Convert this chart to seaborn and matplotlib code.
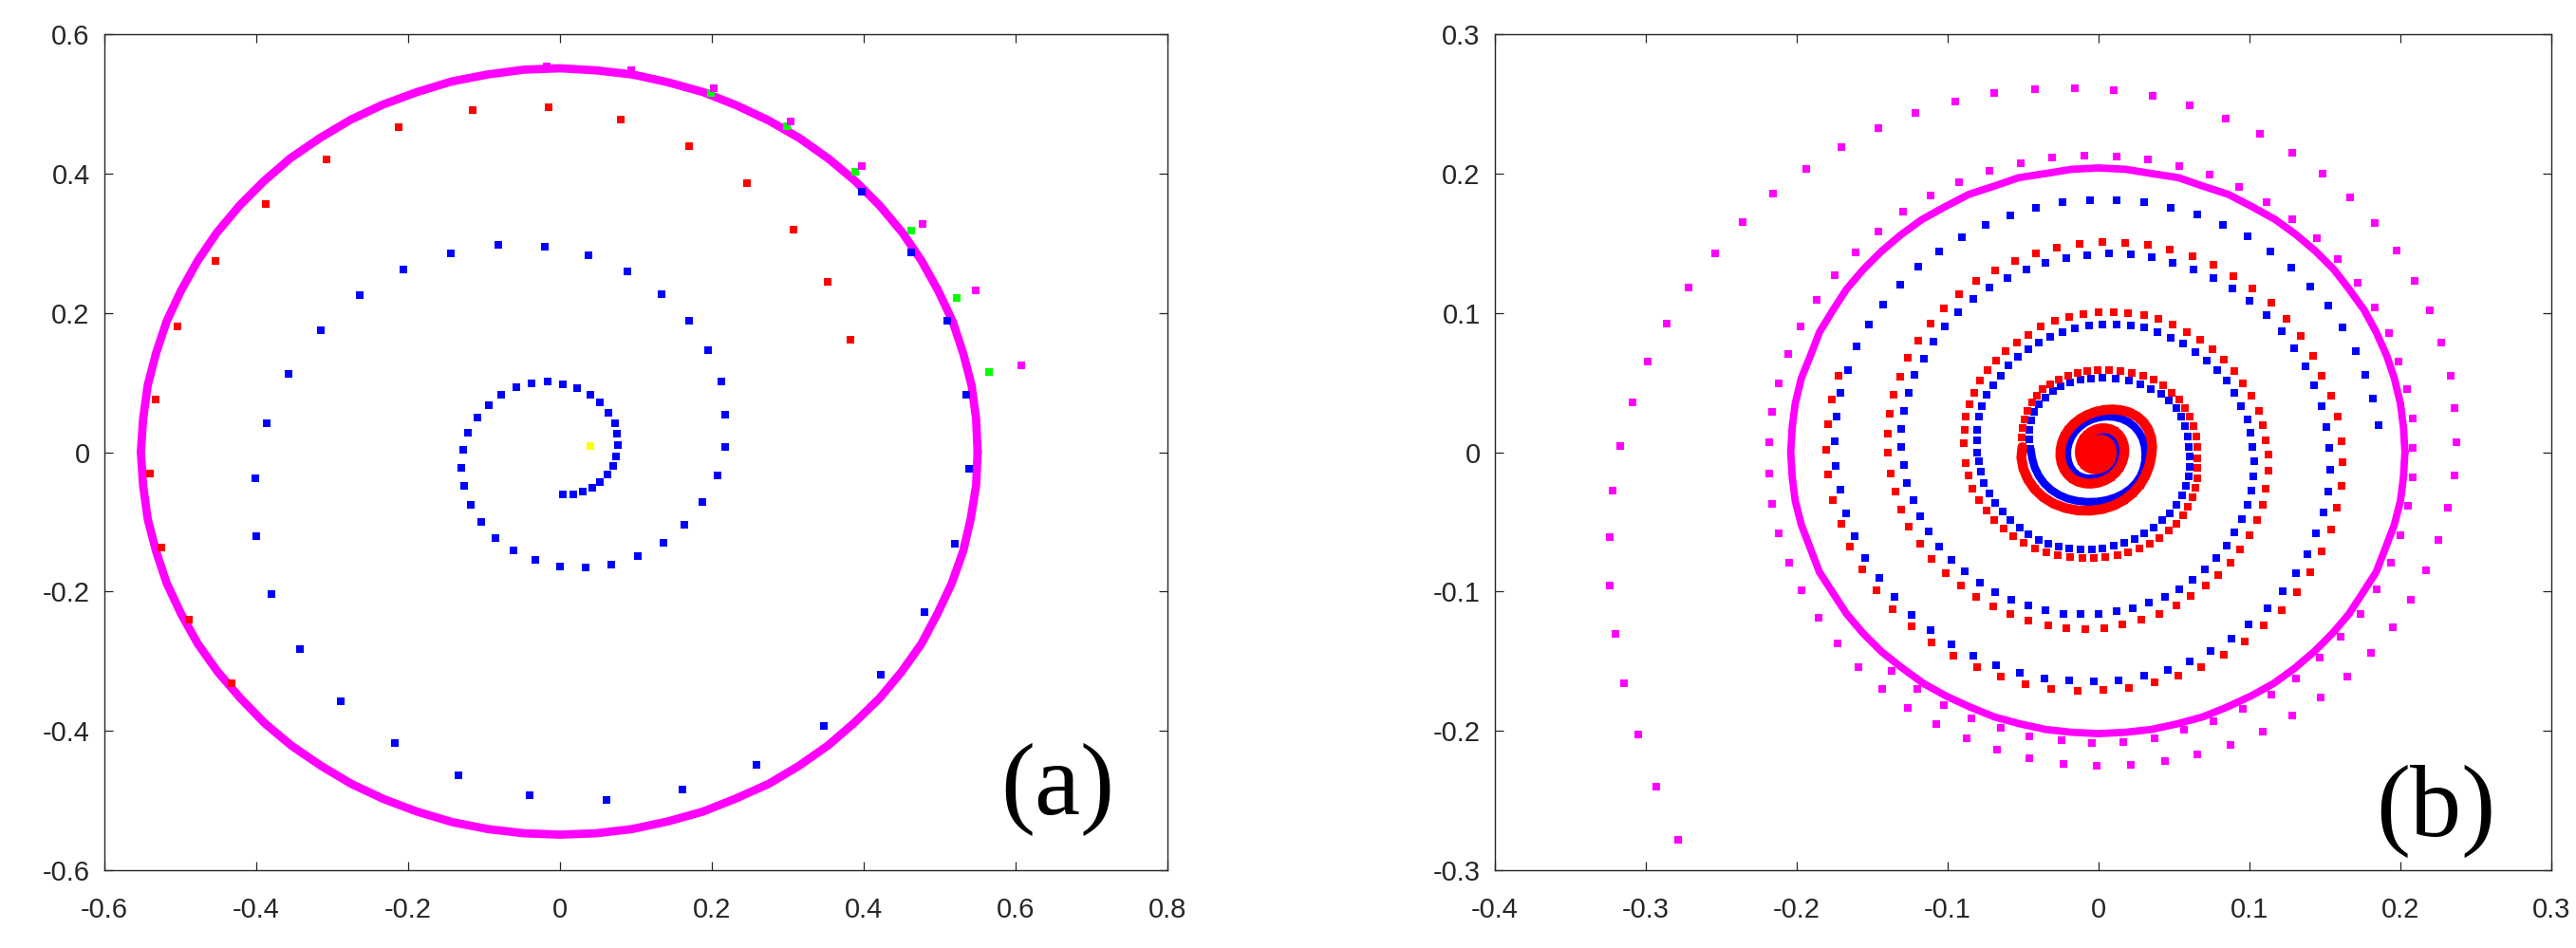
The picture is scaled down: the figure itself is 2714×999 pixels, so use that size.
import matplotlib
matplotlib.use("Agg")
import matplotlib.pyplot as plt
from matplotlib import font_manager as fm
import pandas as pd
import seaborn as sns

# ------------------------------------------------------------------
# Panel (a) data  (x, y) pairs
# ------------------------------------------------------------------
a_ring = [(0.550, 0.000), (0.548, 0.048), (0.542, 0.096), (0.531, 0.142), (0.517, 0.188),
          (0.498, 0.232), (0.476, 0.275), (0.451, 0.315), (0.421, 0.354), (0.389, 0.389),
          (0.354, 0.421), (0.315, 0.451), (0.275, 0.476), (0.232, 0.498), (0.188, 0.517),
          (0.142, 0.531), (0.096, 0.542), (0.048, 0.548), (0.000, 0.551), (-0.048, 0.549),
          (-0.096, 0.542), (-0.143, 0.532), (-0.188, 0.517), (-0.233, 0.499), (-0.276, 0.477),
          (-0.316, 0.451), (-0.355, 0.422), (-0.390, 0.389), (-0.422, 0.354), (-0.452, 0.315),
          (-0.477, 0.275), (-0.499, 0.232), (-0.518, 0.188), (-0.532, 0.142), (-0.543, 0.096),
          (-0.549, 0.048), (-0.552, 0.000), (-0.549, -0.048), (-0.543, -0.096), (-0.532, -0.142),
          (-0.518, -0.188), (-0.499, -0.232), (-0.477, -0.275), (-0.451, -0.315), (-0.421, -0.353),
          (-0.389, -0.389), (-0.354, -0.421), (-0.315, -0.450), (-0.275, -0.476), (-0.232, -0.498),
          (-0.188, -0.516), (-0.142, -0.531), (-0.095, -0.541), (-0.048, -0.547), (0.000, -0.549),
          (0.048, -0.547), (0.095, -0.541), (0.142, -0.530), (0.188, -0.516), (0.232, -0.497),
          (0.275, -0.476), (0.315, -0.450), (0.353, -0.421), (0.388, -0.388), (0.421, -0.353),
          (0.450, -0.315), (0.476, -0.275), (0.497, -0.232), (0.516, -0.188), (0.531, -0.142),
          (0.541, -0.095), (0.548, -0.048), (0.550, 0.000)]

a_blue = [(0.004, -0.061), (0.017, -0.060), (0.030, -0.057), (0.042, -0.051), (0.053, -0.043),
          (0.063, -0.032), (0.070, -0.020), (0.074, -0.006), (0.076, 0.010), (0.075, 0.026),
          (0.072, 0.042), (0.064, 0.057), (0.053, 0.072), (0.040, 0.083), (0.022, 0.092),
          (0.004, 0.098), (-0.016, 0.101), (-0.037, 0.099), (-0.057, 0.093), (-0.077, 0.082),
          (-0.094, 0.068), (-0.109, 0.050), (-0.121, 0.028), (-0.128, 0.003), (-0.130, -0.023),
          (-0.126, -0.048), (-0.118, -0.075), (-0.104, -0.100), (-0.085, -0.123), (-0.061, -0.141),
          (-0.032, -0.155), (0.000, -0.164), (0.034, -0.166), (0.068, -0.161), (0.103, -0.149),
          (0.136, -0.130), (0.164, -0.104), (0.188, -0.072), (0.207, -0.034), (0.217, 0.008),
          (0.218, 0.054), (0.212, 0.101), (0.195, 0.146), (0.170, 0.189), (0.134, 0.227),
          (0.089, 0.259), (0.037, 0.282), (-0.020, 0.295), (-0.081, 0.297), (-0.144, 0.285),
          (-0.206, 0.262), (-0.264, 0.225), (-0.315, 0.175), (-0.357, 0.113), (-0.386, 0.042),
          (-0.401, -0.037), (-0.400, -0.120), (-0.380, -0.203), (-0.343, -0.283), (-0.289, -0.357),
          (-0.218, -0.418), (-0.134, -0.464), (-0.040, -0.492), (0.061, -0.499), (0.161, -0.484),
          (0.259, -0.449), (0.347, -0.393), (0.422, -0.319), (0.480, -0.230), (0.520, -0.131),
          (0.539, -0.024), (0.535, 0.083), (0.510, 0.188), (0.463, 0.287), (0.398, 0.374)]

a_red = [(0.382, 0.162), (0.353, 0.244), (0.308, 0.319), (0.246, 0.386), (0.170, 0.439),
         (0.080, 0.477), (-0.015, 0.495), (-0.115, 0.491), (-0.213, 0.466), (-0.307, 0.420),
         (-0.388, 0.356), (-0.454, 0.274), (-0.504, 0.180), (-0.533, 0.076), (-0.540, -0.031),
         (-0.525, -0.137), (-0.489, -0.240), (-0.432, -0.332)]

a_green = [(0.565, 0.115), (0.523, 0.222), (0.463, 0.318), (0.389, 0.402), (0.299, 0.468),
           (0.199, 0.515)]

a_magenta = [(0.608, 0.125), (0.547, 0.232), (0.478, 0.328), (0.397, 0.410), (0.304, 0.475),
             (0.202, 0.522), (0.094, 0.548), (-0.018, 0.554)]

a_yellow = [(0.040, 0.009)]

a_xticks = [-0.6, -0.4, -0.2, 0, 0.2, 0.4, 0.6, 0.8]
a_xticklabels = ['-0.6', '-0.4', '-0.2', '0', '0.2', '0.4', '0.6', '0.8']
a_yticks = [-0.6, -0.4, -0.2, 0, 0.2, 0.4, 0.6]
a_yticklabels = ['-0.6', '-0.4', '-0.2', '0', '0.2', '0.4', '0.6']

# ------------------------------------------------------------------
# Panel (b) data
# ------------------------------------------------------------------
b_ring = [(0.203, 0.000), (0.202, 0.018), (0.200, 0.035), (0.196, 0.053), (0.191, 0.069),
          (0.184, 0.086), (0.176, 0.102), (0.166, 0.117), (0.156, 0.131), (0.144, 0.144),
          (0.131, 0.156), (0.117, 0.167), (0.102, 0.176), (0.086, 0.185), (0.069, 0.191),
          (0.053, 0.197), (0.035, 0.200), (0.018, 0.203), (0.000, 0.204), (-0.018, 0.203),
          (-0.035, 0.200), (-0.053, 0.197), (-0.069, 0.191), (-0.086, 0.185), (-0.102, 0.176),
          (-0.117, 0.167), (-0.131, 0.156), (-0.144, 0.144), (-0.156, 0.131), (-0.167, 0.117),
          (-0.176, 0.102), (-0.185, 0.086), (-0.191, 0.069), (-0.197, 0.053), (-0.201, 0.035),
          (-0.203, 0.018), (-0.204, 0.000), (-0.203, -0.018), (-0.201, -0.035), (-0.197, -0.052),
          (-0.191, -0.069), (-0.185, -0.086), (-0.176, -0.101), (-0.167, -0.116), (-0.156, -0.130),
          (-0.144, -0.143), (-0.130, -0.155), (-0.116, -0.166), (-0.101, -0.175), (-0.085, -0.183),
          (-0.069, -0.190), (-0.052, -0.195), (-0.035, -0.199), (-0.018, -0.201), (0.000, -0.202),
          (0.018, -0.201), (0.035, -0.199), (0.052, -0.195), (0.069, -0.190), (0.085, -0.183),
          (0.101, -0.175), (0.116, -0.166), (0.130, -0.155), (0.143, -0.143), (0.155, -0.130),
          (0.166, -0.116), (0.175, -0.101), (0.184, -0.086), (0.190, -0.069), (0.196, -0.052),
          (0.200, -0.035), (0.202, -0.018), (0.203, 0.000)]

b_magenta = [(-0.2785, -0.2783), (-0.2932, -0.2401), (-0.3051, -0.2023), (-0.3143, -0.1659),
             (-0.3203, -0.1303), (-0.3236, -0.0955), (-0.3241, -0.0608), (-0.3219, -0.0274),
             (-0.3170, 0.0043), (-0.3089, 0.0356), (-0.2986, 0.0647), (-0.2861, 0.0925),
             (-0.2714, 0.1185), (-0.2542, 0.1428), (-0.2360, 0.1654), (-0.2159, 0.1858),
             (-0.1937, 0.2036), (-0.1707, 0.2192), (-0.1462, 0.2325), (-0.1211, 0.2436),
             (-0.0952, 0.2517), (-0.0689, 0.2576), (-0.0423, 0.2608), (-0.0160, 0.2612),
             (0.0098, 0.2597), (0.0357, 0.2554), (0.0605, 0.2486), (0.0842, 0.2393),
             (0.1069, 0.2282), (0.1284, 0.2147), (0.1484, 0.1998), (0.1667, 0.1828),
             (0.1831, 0.1643), (0.1973, 0.1444), (0.2097, 0.1232), (0.2195, 0.1015),
             (0.2272, 0.0784), (0.2334, 0.0551), (0.2360, 0.0316), (0.2371, 0.0072),
             (0.2360, -0.0166), (0.2316, -0.0400), (0.2254, -0.0629), (0.2170, -0.0847),
             (0.2068, -0.1058), (0.1947, -0.1255), (0.1805, -0.1439), (0.1648, -0.1610),
             (0.1470, -0.1759), (0.1284, -0.1891), (0.1087, -0.2007), (0.0875, -0.2098),
             (0.0656, -0.2170), (0.0441, -0.2218), (0.0215, -0.2245), (-0.0011, -0.2254),
             (-0.0233, -0.2234), (-0.0456, -0.2195), (-0.0671, -0.2134), (-0.0875, -0.2054),
             (-0.1076, -0.1952), (-0.1266, -0.1834), (-0.1437, -0.1696), (-0.1594, -0.1541),
             (-0.1732, -0.1371), (-0.1856, -0.1190), (-0.1966, -0.0994), (-0.2050, -0.0795),
             (-0.2119, -0.0583), (-0.2166, -0.0372), (-0.2185, -0.0154), (-0.2185, 0.0070),
             (-0.2163, 0.0287), (-0.2119, 0.0497), (-0.2057, 0.0705), (-0.1973, 0.0902),
             (-0.1871, 0.1094), (-0.1751, 0.1270), (-0.1612, 0.1437), (-0.1459, 0.1586),
             (-0.1295, 0.1724), (-0.1112, 0.1840), (-0.0923, 0.1937), (-0.0726, 0.2016),
             (-0.0518, 0.2075), (-0.0306, 0.2113), (-0.0095, 0.2129), (0.0117, 0.2124),
             (0.0328, 0.2102), (0.0536, 0.2056), (0.0737, 0.1989), (0.0930, 0.1903),
             (0.1112, 0.1797), (0.1284, 0.1672), (0.1444, 0.1537), (0.1586, 0.1383),
             (0.1718, 0.1218), (0.1831, 0.1037), (0.1922, 0.0852), (0.1988, 0.0653),
             (0.2042, 0.0450), (0.2082, 0.0242), (0.2082, 0.0032), (0.2082, -0.0182),
             (0.2053, -0.0386), (0.2002, -0.0595), (0.1937, -0.0795), (0.1842, -0.0983),
             (0.1736, -0.1158), (0.1605, -0.1326), (0.1466, -0.1476), (0.1306, -0.1623),
             (0.1145, -0.1741), (0.0959, -0.1843), (0.0759, -0.1934), (0.0565, -0.1993),
             (0.0368, -0.2050), (0.0164, -0.2082), (-0.0044, -0.2089), (-0.0248, -0.2070),
             (-0.0456, -0.2039), (-0.0649, -0.1977), (-0.0842, -0.1907), (-0.1028, -0.1812),
             (-0.1204, -0.1698), (-0.1368, -0.1571)]

b_blue = [(0.1853, 0.0197), (0.1816, 0.0382), (0.1769, 0.0554), (0.1703, 0.0728), (0.1619, 0.0893),
          (0.1521, 0.1049), (0.1404, 0.1191), (0.1276, 0.1322), (0.1138, 0.1440), (0.0985, 0.1546),
          (0.0824, 0.1634), (0.0656, 0.1704), (0.0481, 0.1756), (0.0303, 0.1792), (0.0120, 0.1810),
          (-0.0058, 0.1810), (-0.0237, 0.1792), (-0.0416, 0.1756), (-0.0587, 0.1702), (-0.0751, 0.1629),
          (-0.0908, 0.1543), (-0.1058, 0.1442), (-0.1193, 0.1329), (-0.1317, 0.1202), (-0.1426, 0.1062),
          (-0.1521, 0.0913), (-0.1601, 0.0757), (-0.1663, 0.0592), (-0.1710, 0.0425), (-0.1736, 0.0253),
          (-0.1747, 0.0079), (-0.1740, -0.0102), (-0.1710, -0.0268), (-0.1674, -0.0440), (-0.1616, -0.0604),
          (-0.1546, -0.0756), (-0.1455, -0.0904), (-0.1353, -0.1040), (-0.1236, -0.1167), (-0.1112, -0.1276),
          (-0.0977, -0.1378), (-0.0828, -0.1460), (-0.0678, -0.1530), (-0.0522, -0.1582), (-0.0357, -0.1621),
          (-0.0193, -0.1641), (-0.0029, -0.1646), (0.0131, -0.1635), (0.0299, -0.1605), (0.0456, -0.1560),
          (0.0605, -0.1501), (0.0744, -0.1426), (0.0879, -0.1337), (0.0996, -0.1237), (0.1120, -0.1121),
          (0.1222, -0.1001), (0.1309, -0.0869), (0.1382, -0.0731), (0.1441, -0.0579), (0.1488, -0.0431),
          (0.1521, -0.0282), (0.1532, -0.0125), (0.1530, 0.0032), (0.1510, 0.0181), (0.1477, 0.0330),
          (0.1430, 0.0479), (0.1371, 0.0615), (0.1298, 0.0744), (0.1211, 0.0868), (0.1112, 0.0981),
          (0.1003, 0.1085), (0.0886, 0.1173), (0.0759, 0.1247), (0.0631, 0.1313), (0.0492, 0.1360),
          (0.0354, 0.1397), (0.0212, 0.1419), (0.0069, 0.1424), (-0.0073, 0.1415), (-0.0215, 0.1392),
          (-0.0350, 0.1358), (-0.0481, 0.1313), (-0.0602, 0.1252), (-0.0722, 0.1182), (-0.0828, 0.1098),
          (-0.0930, 0.1003), (-0.1018, 0.0902), (-0.1094, 0.0791), (-0.1160, 0.0673), (-0.1218, 0.0556),
          (-0.1258, 0.0429), (-0.1287, 0.0298), (-0.1306, 0.0167), (-0.1306, 0.0036), (-0.1287, -0.0091),
          (-0.1269, -0.0222), (-0.1229, -0.0341), (-0.1182, -0.0459), (-0.1123, -0.0570), (-0.1054, -0.0677),
          (-0.0974, -0.0772), (-0.0886, -0.0858), (-0.0788, -0.0938), (-0.0686, -0.1003), (-0.0580, -0.1060),
          (-0.0467, -0.1103), (-0.0354, -0.1137), (-0.0233, -0.1158), (-0.0117, -0.1162), (0.0000, -0.1158),
          (0.0117, -0.1144), (0.0226, -0.1119), (0.0336, -0.1081), (0.0438, -0.1037), (0.0532, -0.0981),
          (0.0624, -0.0915), (0.0704, -0.0842), (0.0780, -0.0758), (0.0846, -0.0672), (0.0901, -0.0577),
          (0.0948, -0.0479), (0.0985, -0.0379), (0.1010, -0.0275), (0.1025, -0.0173), (0.1032, -0.0068),
          (0.1021, 0.0038), (0.1007, 0.0140), (0.0985, 0.0237), (0.0945, 0.0332), (0.0901, 0.0427),
          (0.0846, 0.0511), (0.0784, 0.0592), (0.0715, 0.0658), (0.0642, 0.0721), (0.0562, 0.0777),
          (0.0478, 0.0823), (0.0390, 0.0863), (0.0299, 0.0893), (0.0212, 0.0908), (0.0120, 0.0918),
          (0.0026, 0.0918), (-0.0066, 0.0908), (-0.0157, 0.0890), (-0.0241, 0.0863), (-0.0321, 0.0827),
          (-0.0394, 0.0786), (-0.0467, 0.0739), (-0.0536, 0.0682), (-0.0598, 0.0621), (-0.0649, 0.0551),
          (-0.0697, 0.0481), (-0.0740, 0.0409), (-0.0773, 0.0332), (-0.0795, 0.0253), (-0.0802, 0.0163),
          (-0.0806, 0.0084), (-0.0802, 0.0000), (-0.0795, -0.0068), (-0.0780, -0.0141), (-0.0759, -0.0222),
          (-0.0726, -0.0295), (-0.0686, -0.0363), (-0.0638, -0.0427), (-0.0584, -0.0486), (-0.0525, -0.0540),
          (-0.0463, -0.0588), (-0.0398, -0.0627), (-0.0332, -0.0656), (-0.0263, -0.0677), (-0.0193, -0.0690),
          (-0.0120, -0.0697), (-0.0047, -0.0697), (0.0026, -0.0688), (0.0098, -0.0672), (0.0168, -0.0649),
          (0.0237, -0.0620), (0.0303, -0.0583), (0.0365, -0.0540), (0.0423, -0.0490), (0.0474, -0.0436),
          (0.0518, -0.0377), (0.0554, -0.0313), (0.0580, -0.0245), (0.0598, -0.0175), (0.0605, -0.0104),
          (0.0605, -0.0034), (0.0598, 0.0036), (0.0591, 0.0113), (0.0573, 0.0185), (0.0547, 0.0253),
          (0.0514, 0.0314), (0.0467, 0.0371), (0.0412, 0.0416), (0.0346, 0.0456), (0.0277, 0.0490),
          (0.0201, 0.0511), (0.0113, 0.0529), (0.0026, 0.0536), (-0.0050, 0.0531), (-0.0118, 0.0520),
          (-0.0187, 0.0502), (-0.0249, 0.0475), (-0.0305, 0.0441), (-0.0354, 0.0395), (-0.0394, 0.0346),
          (-0.0426, 0.0289), (-0.0446, 0.0226), (-0.0456, 0.0158), (-0.0456, 0.0090), (-0.0450, 0.0023)]

b_blue_core = [(-0.0450, 0.0023), (-0.0440, -0.0045), (-0.0423, -0.0110), (-0.0396, -0.0170),
               (-0.0360, -0.0224), (-0.0315, -0.0270), (-0.0262, -0.0307), (-0.0203, -0.0334),
               (-0.0140, -0.0350), (-0.0075, -0.0357), (-0.0010, -0.0355), (0.0054, -0.0344),
               (0.0113, -0.0324), (0.0166, -0.0296), (0.0212, -0.0261), (0.0249, -0.0219),
               (0.0278, -0.0172), (0.0297, -0.0120), (0.0308, -0.0066), (0.0310, -0.0010),
               (0.0305, 0.0045), (0.0291, 0.0097), (0.0268, 0.0144), (0.0236, 0.0185),
               (0.0197, 0.0217), (0.0152, 0.0240), (0.0103, 0.0253), (0.0052, 0.0256),
               (0.0002, 0.0250), (-0.0045, 0.0235), (-0.0088, 0.0212), (-0.0125, 0.0182),
               (-0.0157, 0.0147), (-0.0181, 0.0107), (-0.0198, 0.0064), (-0.0207, 0.0019),
               (-0.0208, -0.0026), (-0.0201, -0.0069), (-0.0187, -0.0108), (-0.0165, -0.0141),
               (-0.0137, -0.0166), (-0.0104, -0.0182), (-0.0068, -0.0189), (-0.0032, -0.0187),
               (0.0003, -0.0177), (0.0036, -0.0160), (0.0066, -0.0136), (0.0092, -0.0107),
               (0.0113, -0.0073), (0.0127, -0.0037), (0.0134, 0.0000), (0.0134, 0.0036),
               (0.0126, 0.0069), (0.0111, 0.0097), (0.0090, 0.0117), (0.0064, 0.0129),
               (0.0036, 0.0132), (0.0008, 0.0128), (-0.0018, 0.0117), (-0.0040, 0.0099),
               (-0.0057, 0.0076), (-0.0067, 0.0050), (-0.0071, 0.0022), (-0.0069, -0.0006),
               (-0.0061, -0.0031), (-0.0047, -0.0051), (-0.0029, -0.0064), (-0.0008, -0.0069),
               (0.0013, -0.0066), (0.0031, -0.0055), (0.0045, -0.0039), (0.0053, -0.0019),
               (0.0055, 0.0002), (0.0051, 0.0022), (0.0041, 0.0037), (0.0027, 0.0046),
               (0.0011, 0.0049), (-0.0004, 0.0045), (-0.0016, 0.0036), (-0.0023, 0.0023)]

b_red = [(-0.1725, 0.0551), (-0.1769, 0.0375), (-0.1794, 0.0203), (-0.1802, 0.0020), (-0.1791, -0.0163),
         (-0.1761, -0.0341), (-0.1707, -0.0511), (-0.1648, -0.0677), (-0.1568, -0.0840), (-0.1470, -0.0988),
         (-0.1364, -0.1124), (-0.1240, -0.1249), (-0.1105, -0.1364), (-0.0963, -0.1460), (-0.0806, -0.1544),
         (-0.0649, -0.1612), (-0.0485, -0.1662), (-0.0314, -0.1696), (-0.0139, -0.1712), (0.0033, -0.1709),
         (0.0201, -0.1691), (0.0368, -0.1653), (0.0529, -0.1607), (0.0682, -0.1544), (0.0828, -0.1457),
         (0.0966, -0.1362), (0.1094, -0.1242), (0.1211, -0.1131), (0.1317, -0.1006), (0.1404, -0.0863),
         (0.1477, -0.0711), (0.1539, -0.0556), (0.1579, -0.0400), (0.1608, -0.0243), (0.1616, -0.0073),
         (0.1608, 0.0077), (0.1583, 0.0253), (0.1543, 0.0402), (0.1481, 0.0551), (0.1419, 0.0694),
         (0.1338, 0.0832), (0.1244, 0.0958), (0.1142, 0.1076), (0.1021, 0.1175), (0.0894, 0.1266),
         (0.0759, 0.1342), (0.0620, 0.1406), (0.0474, 0.1455), (0.0325, 0.1487), (0.0175, 0.1505),
         (0.0026, 0.1507), (-0.0128, 0.1496), (-0.0277, 0.1471), (-0.0416, 0.1428), (-0.0554, 0.1374),
         (-0.0686, 0.1306), (-0.0810, 0.1227), (-0.0923, 0.1134), (-0.1025, 0.1031), (-0.1116, 0.0920),
         (-0.1196, 0.0802), (-0.1266, 0.0676), (-0.1317, 0.0542), (-0.1357, 0.0409), (-0.1382, 0.0273),
         (-0.1397, 0.0133), (-0.1397, -0.0002), (-0.1375, -0.0152), (-0.1346, -0.0284), (-0.1306, -0.0415),
         (-0.1255, -0.0536), (-0.1182, -0.0654), (-0.1105, -0.0765), (-0.1014, -0.0867), (-0.0915, -0.0960),
         (-0.0810, -0.1040), (-0.0697, -0.1108), (-0.0584, -0.1162), (-0.0463, -0.1210), (-0.0336, -0.1242),
         (-0.0212, -0.1260), (-0.0088, -0.1267), (0.0036, -0.1260), (0.0160, -0.1237), (0.0284, -0.1203),
         (0.0401, -0.1158), (0.0514, -0.1101), (0.0613, -0.1033), (0.0711, -0.0960), (0.0791, -0.0881),
         (0.0872, -0.0795), (0.0937, -0.0697), (0.0999, -0.0595), (0.1050, -0.0490), (0.1087, -0.0377),
         (0.1109, -0.0259), (0.1123, -0.0136), (0.1123, -0.0018), (0.1109, 0.0084), (0.1087, 0.0197),
         (0.1061, 0.0298), (0.1014, 0.0402), (0.0959, 0.0497), (0.0901, 0.0581), (0.0832, 0.0667),
         (0.0755, 0.0739), (0.0671, 0.0807), (0.0587, 0.0863), (0.0489, 0.0915), (0.0398, 0.0954),
         (0.0299, 0.0981), (0.0197, 0.0999), (0.0098, 0.1006), (0.0000, 0.1003), (-0.0102, 0.0994),
         (-0.0197, 0.0972), (-0.0288, 0.0940), (-0.0383, 0.0899), (-0.0467, 0.0843), (-0.0543, 0.0789),
         (-0.0616, 0.0725), (-0.0682, 0.0655), (-0.0737, 0.0588), (-0.0784, 0.0511), (-0.0824, 0.0427),
         (-0.0857, 0.0343), (-0.0879, 0.0253), (-0.0886, 0.0163), (-0.0890, 0.0068), (-0.0879, -0.0079),
         (-0.0864, -0.0170), (-0.0835, -0.0261), (-0.0791, -0.0345), (-0.0744, -0.0420), (-0.0689, -0.0488),
         (-0.0631, -0.0549), (-0.0565, -0.0604), (-0.0496, -0.0649), (-0.0423, -0.0688), (-0.0346, -0.0720),
         (-0.0270, -0.0740), (-0.0190, -0.0754), (-0.0109, -0.0761), (-0.0029, -0.0761), (0.0047, -0.0754),
         (0.0124, -0.0740), (0.0197, -0.0720), (0.0270, -0.0690), (0.0339, -0.0656), (0.0405, -0.0613),
         (0.0463, -0.0565), (0.0514, -0.0513), (0.0558, -0.0454), (0.0594, -0.0390), (0.0624, -0.0325),
         (0.0642, -0.0257), (0.0653, -0.0186), (0.0656, -0.0114), (0.0656, -0.0041), (0.0653, 0.0036),
         (0.0646, 0.0113), (0.0631, 0.0185), (0.0605, 0.0253), (0.0573, 0.0316), (0.0532, 0.0377),
         (0.0485, 0.0429), (0.0427, 0.0477), (0.0365, 0.0518), (0.0295, 0.0547), (0.0222, 0.0569),
         (0.0146, 0.0581), (0.0069, 0.0588), (-0.0007, 0.0588), (-0.0073, 0.0581), (-0.0139, 0.0569),
         (-0.0203, 0.0551), (-0.0264, 0.0524), (-0.0318, 0.0490), (-0.0368, 0.0450), (-0.0409, 0.0405),
         (-0.0441, 0.0355), (-0.0470, 0.0298), (-0.0492, 0.0237), (-0.0505, 0.0172), (-0.0508, 0.0104),
         (-0.0505, 0.0036)]

b_red_core = [(-0.0505, 0.0036), (-0.0512, -0.0040), (-0.0498, -0.0120), (-0.0468, -0.0196),
              (-0.0424, -0.0265), (-0.0366, -0.0324), (-0.0297, -0.0370), (-0.0220, -0.0401),
              (-0.0138, -0.0418), (-0.0055, -0.0420), (0.0027, -0.0408), (0.0103, -0.0382),
              (0.0170, -0.0343), (0.0228, -0.0293), (0.0275, -0.0234), (0.0311, -0.0168),
              (0.0336, -0.0098), (0.0350, -0.0026), (0.0355, 0.0040), (0.0348, 0.0106),
              (0.0328, 0.0166), (0.0296, 0.0217), (0.0254, 0.0257), (0.0205, 0.0285),
              (0.0151, 0.0301), (0.0094, 0.0307), (0.0037, 0.0303), (-0.0019, 0.0290),
              (-0.0073, 0.0268), (-0.0122, 0.0239), (-0.0164, 0.0203), (-0.0199, 0.0161),
              (-0.0225, 0.0116), (-0.0243, 0.0068), (-0.0252, 0.0018), (-0.0253, -0.0032),
              (-0.0245, -0.0080), (-0.0228, -0.0124), (-0.0203, -0.0162), (-0.0171, -0.0192),
              (-0.0133, -0.0213), (-0.0091, -0.0224), (-0.0047, -0.0226), (-0.0003, -0.0219),
              (0.0040, -0.0203), (0.0079, -0.0179), (0.0112, -0.0148), (0.0139, -0.0111),
              (0.0157, -0.0070), (0.0168, -0.0027), (0.0171, 0.0017), (0.0166, 0.0058),
              (0.0153, 0.0095), (0.0133, 0.0126), (0.0107, 0.0150), (0.0077, 0.0165),
              (0.0044, 0.0172), (0.0011, 0.0171), (-0.0021, 0.0162), (-0.0050, 0.0146),
              (-0.0076, 0.0124), (-0.0098, 0.0097), (-0.0113, 0.0066), (-0.0122, 0.0033),
              (-0.0125, -0.0001), (-0.0121, -0.0034), (-0.0111, -0.0064), (-0.0095, -0.0089),
              (-0.0074, -0.0108), (-0.0050, -0.0119), (-0.0024, -0.0123), (0.0002, -0.0120),
              (0.0027, -0.0110), (0.0049, -0.0094), (0.0067, -0.0073), (0.0080, -0.0048),
              (0.0087, -0.0021), (0.0088, 0.0006), (0.0083, 0.0032), (0.0073, 0.0055),
              (0.0058, 0.0073), (0.0039, 0.0085), (0.0018, 0.0090), (-0.0003, 0.0089),
              (-0.0023, 0.0082), (-0.0040, 0.0069), (-0.0053, 0.0052), (-0.0061, 0.0031),
              (-0.0064, 0.0009), (-0.0061, -0.0013), (-0.0053, -0.0032), (-0.0040, -0.0046),
              (-0.0024, -0.0055), (-0.0006, -0.0057), (0.0011, -0.0053), (0.0026, -0.0043),
              (0.0036, -0.0029), (0.0041, -0.0012), (0.0041, 0.0005), (0.0036, 0.0020),
              (0.0027, 0.0031), (0.0015, 0.0037), (0.0002, 0.0038), (-0.0010, 0.0034),
              (-0.0019, 0.0025), (-0.0023, 0.0014), (-0.0023, 0.0003), (-0.0019, -0.0007),
              (-0.0011, -0.0013), (-0.0002, -0.0015), (0.0006, -0.0012), (0.0010, -0.0006)]

b_xticks = [-0.4, -0.3, -0.2, -0.1, 0, 0.1, 0.2, 0.3]
b_xticklabels = ['-0.4', '-0.3', '-0.2', '-0.1', '0', '0.1', '0.2', '0.3']
b_yticks = [-0.3, -0.2, -0.1, 0, 0.1, 0.2, 0.3]
b_yticklabels = ['-0.3', '-0.2', '-0.1', '0', '0.1', '0.2', '0.3']

panel_labels = ['(a)', '(b)']

# ------------------------------------------------------------------
MAGENTA, BLUE, RED, GREEN, YELLOW = '#FF00FF', '#0000FF', '#FF0000', '#00FF00', '#FFFF00'
AXCOL = '#262626'


def pick_font_file(preferred):
    entries = fm.fontManager.ttflist
    for name in preferred:
        for f in entries:
            if f.name == name and f.style == 'normal' and str(f.weight) in ('400', 'normal', 'regular'):
                return f.fname
    return None


serif_file = pick_font_file(['Liberation Serif', 'Times New Roman', 'STIXGeneral', 'DejaVu Serif'])
sans_file = pick_font_file(['Liberation Sans', 'Arial', 'DejaVu Sans'])

sns.set_theme(style="white")
plt.rcParams['font.family'] = ['Liberation Sans', 'DejaVu Sans']

label_fp = (fm.FontProperties(fname=serif_file, size=78) if serif_file
            else fm.FontProperties(family='serif', size=78))
tick_fp = (fm.FontProperties(fname=sans_file, size=21) if sans_file
           else fm.FontProperties(family='sans-serif', size=21))

fig = plt.figure(figsize=(27.14, 9.99), dpi=100)
fig.patch.set_facecolor('white')
W, H = 2714.0, 999.0
axA = fig.add_axes([110 / W, 82 / H, 1120 / W, 881 / H])
axB = fig.add_axes([1575 / W, 82 / H, 1113 / W, 881 / H])


def frame(pts):
    return pd.DataFrame(pts, columns=['x', 'y'])


def dots(ax, pts, color, z=3, s=26):
    d = frame(pts)
    sns.scatterplot(data=d, x='x', y='y', ax=ax, color=color, marker='s', s=s,
                    linewidth=0, legend=False, zorder=z)


def band(ax, pts, color, lw, z=2):
    d = frame(pts)
    sns.lineplot(data=d, x='x', y='y', ax=ax, color=color, lw=lw, sort=False,
                 estimator=None, legend=False, zorder=z,
                 solid_joinstyle='round', solid_capstyle='round')


# ---- panel (a)
band(axA, a_ring, MAGENTA, 6.3, z=2)
dots(axA, a_blue, BLUE)
dots(axA, a_red, RED)
dots(axA, a_green, GREEN)
dots(axA, a_magenta, MAGENTA)
dots(axA, a_yellow, YELLOW)

# ---- panel (b)
band(axB, b_ring, MAGENTA, 5.6, z=2)
dots(axB, b_magenta, MAGENTA)
dots(axB, b_blue, BLUE)
band(axB, b_blue_core, BLUE, 6.0, z=3)
dots(axB, b_red, RED, z=4)
band(axB, b_red_core, RED, 7.5, z=4)
dots(axB, b_red_core, RED, z=4, s=40)


def style(ax, xlim, ylim, xt, xtl, yt, ytl):
    ax.set_xlim(*xlim)
    ax.set_ylim(*ylim)
    ax.set_xticks(xt)
    ax.set_xticklabels(xtl, fontproperties=tick_fp)
    ax.set_yticks(yt)
    ax.set_yticklabels(ytl, fontproperties=tick_fp)
    ax.set_xlabel('')
    ax.set_ylabel('')
    ax.set_facecolor('white')
    for s in ax.spines.values():
        s.set_visible(True)
        s.set_color(AXCOL)
        s.set_linewidth(1.0)
    ax.tick_params(axis='both', which='both', direction='in', length=6.5, width=0.9,
                   color=AXCOL, labelcolor=AXCOL,
                   top=True, right=True, bottom=True, left=True)
    ax.tick_params(axis='x', pad=20)
    ax.tick_params(axis='y', pad=11)
    ax.grid(False)


style(axA, (-0.6, 0.8), (-0.6, 0.6), a_xticks, a_xticklabels, a_yticks, a_yticklabels)
style(axB, (-0.4, 0.3), (-0.3, 0.3), b_xticks, b_xticklabels, b_yticks, b_yticklabels)

axA.text(0.655, -0.484, panel_labels[0], ha='center', va='center',
         fontproperties=label_fp, color='black', zorder=6)
axB.text(0.2236, -0.258, panel_labels[1], ha='center', va='center',
         fontproperties=label_fp, color='black', zorder=6)

fig.savefig('out.png', dpi=100, facecolor='white')
